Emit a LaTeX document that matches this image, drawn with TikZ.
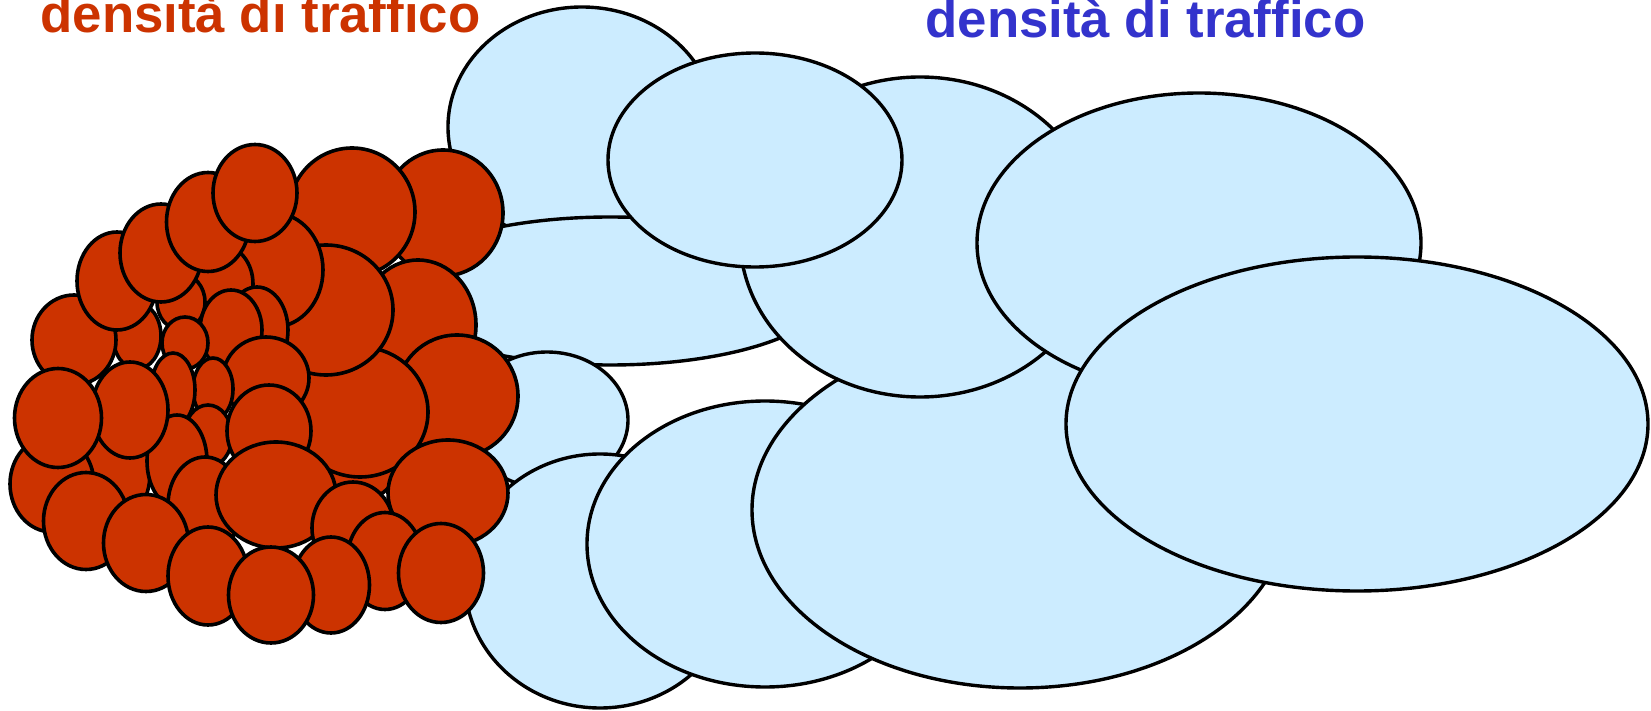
\documentclass[tikz,border=0pt]{standalone}
\usepackage{fontspec}
\setmainfont{Liberation Sans}
\definecolor{cellred}{HTML}{CC3300}
\definecolor{cellblue}{HTML}{CCECFF}
\definecolor{titleblue}{HTML}{3333CC}
\begin{document}
\begin{tikzpicture}[x=0.5pt, y=-0.5pt,
    bigcell/.style={draw=black, line width=1.7pt, fill=cellblue},
    smallcell/.style={draw=black, line width=1.8pt, fill=cellred},
    title/.style={font=\fontsize{26.4}{30}\selectfont\bfseries, anchor=base west, inner sep=0pt}]
    \useasboundingbox (0,0) rectangle (1651,711);
    \clip (0,0) rectangle (1651,711);
    % low traffic density: large cells
    \foreach \cx/\cy/\rx/\ry in {582/127/134/120, 610/291/220/74, 547/420/81/68,
        600/581/135/127, 765/544/178/143, 1020/510/268/178, 920/237/180/160,
        755/160/147/107, 1199/243/222/150, 1357/424/291/167}
        \draw[bigcell] (\cx,\cy) ellipse [x radius=\rx*0.5pt, y radius=\ry*0.5pt];
    % high traffic density: small cells
    \foreach \cx/\cy/\rx/\ry in {443/213/60/63, 352/212/63/64, 418/325/58/65,
        457/396/61/61, 352/455/50/48, 360/412/68/65, 448/493/60/53,
        326/310/67/65, 274/270/49/57, 223/284/30/38, 181/302/24/28,
        257/330/31/43, 231/330/31/40, 266/378/43/41, 185/343/23/26,
        137/336/24/33, 213/389/20/31, 173/390/22/37, 208/436/24/31,
        269/431/42/46, 115/473/35/50, 177/461/30/46, 205/505/37/48,
        276/495/60/53, 130/410/38/48, 353/528/41/46, 74/340/42/45,
        117/281/40/49, 161/253/41/49, 208/222/41.5/49.5, 255/193/42/48.5,
        52/484/42/48, 58/418/43.5/49.5, 86/521/42.5/48.5, 146/543/42.5/48.5,
        208/576/40/49, 385/561/38/48.5, 441/573/42.5/49.5, 331/585/38.5/48,
        271/595/42.5/48}
        \draw[smallcell] (\cx,\cy) ellipse [x radius=\rx*0.5pt, y radius=\ry*0.5pt];
    \node[title, text=cellred] (hightitle) at (40,33) {densità di traffico};
    \node[title, text=titleblue] (lowtitle) at (925,38) {densità di traffico};
\end{tikzpicture}
\end{document}
